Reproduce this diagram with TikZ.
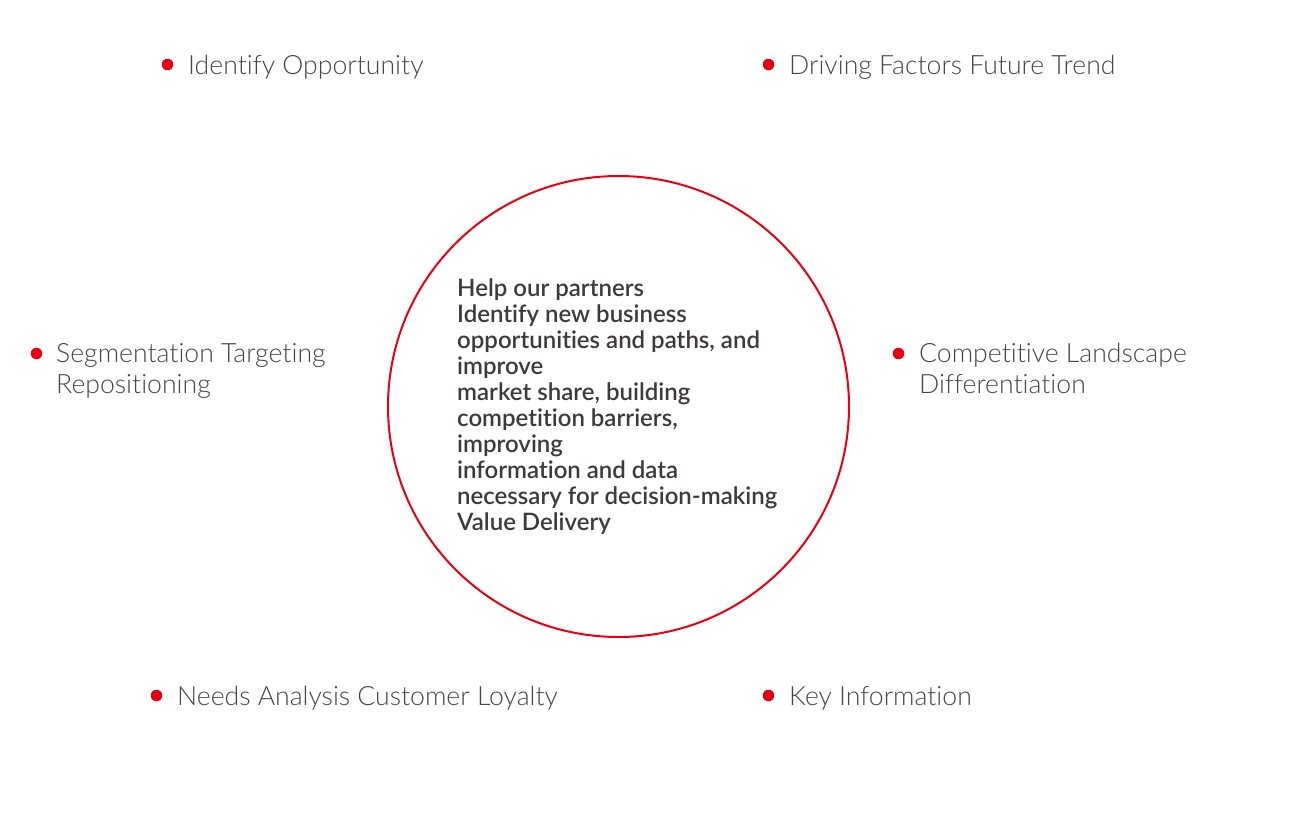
\documentclass[tikz,border=0pt]{standalone}
\usepackage{fontspec}
\setmainfont{Lato}
\newfontfamily\itemfont{Lato Light}[Ligatures=NoCommon]
\newfontfamily\corefont{Lato Semibold}[Ligatures=NoCommon]
\definecolor{accent}{HTML}{E60012}
\definecolor{itemtext}{HTML}{4A4446}
\definecolor{coretext}{HTML}{3F393B}
\tikzset{
  dot/.style={circle, fill=accent, inner sep=0pt, minimum size=11.5pt},
  item/.style={anchor=base west, inner sep=0pt, text=itemtext, align=left,
    font=\itemfont\fontsize{26.6}{31}\selectfont},
  core/.style={anchor=base west, inner sep=0pt, text=coretext, align=left,
    font=\corefont\fontsize{24}{25.9}\selectfont},
  ring/.style={circle, draw=accent, line width=2pt, minimum size=461pt, inner sep=0pt}
}
\begin{document}
\begin{tikzpicture}[x=1pt, y=-1pt]
  \useasboundingbox[fill=white] (0,0) rectangle (1312,836);

  % central circle with its statement (anchored at the last baseline)
  \node[ring] (ring) at (618.5,406.5) {};
  \node[core] (statement) at (457,530) {Help our partners\\
    Identify new business\\
    opportunities and paths, and\\
    improve\\
    market share, building\\
    competition barriers,\\
    improving\\
    information and data\\
    necessary for decision-making\\
    Value Delivery};

  % surrounding bullet items
  \node[dot] (d1) at (167.5,64.5) {};
  \node[item] (t1) at (188,74) {Identify Opportunity};
  \node[dot] (d2) at (768.5,64.5) {};
  \node[item] (t2) at (789,74) {Driving Factors Future Trend};
  \node[dot] (d3) at (36.5,353.5) {};
  \node[item] (t3) at (56,393) {Segmentation Targeting\\Repositioning};
  \node[dot] (d4) at (898.5,353.5) {};
  \node[item] (t4) at (919,393) {Competitive Landscape\\Differentiation};
  \node[dot] (d5) at (156.5,695.5) {};
  \node[item] (t5) at (177,705) {Needs Analysis Customer Loyalty};
  \node[dot] (d6) at (768.5,695.5) {};
  \node[item] (t6) at (789,705) {Key Information};
\end{tikzpicture}
\end{document}
